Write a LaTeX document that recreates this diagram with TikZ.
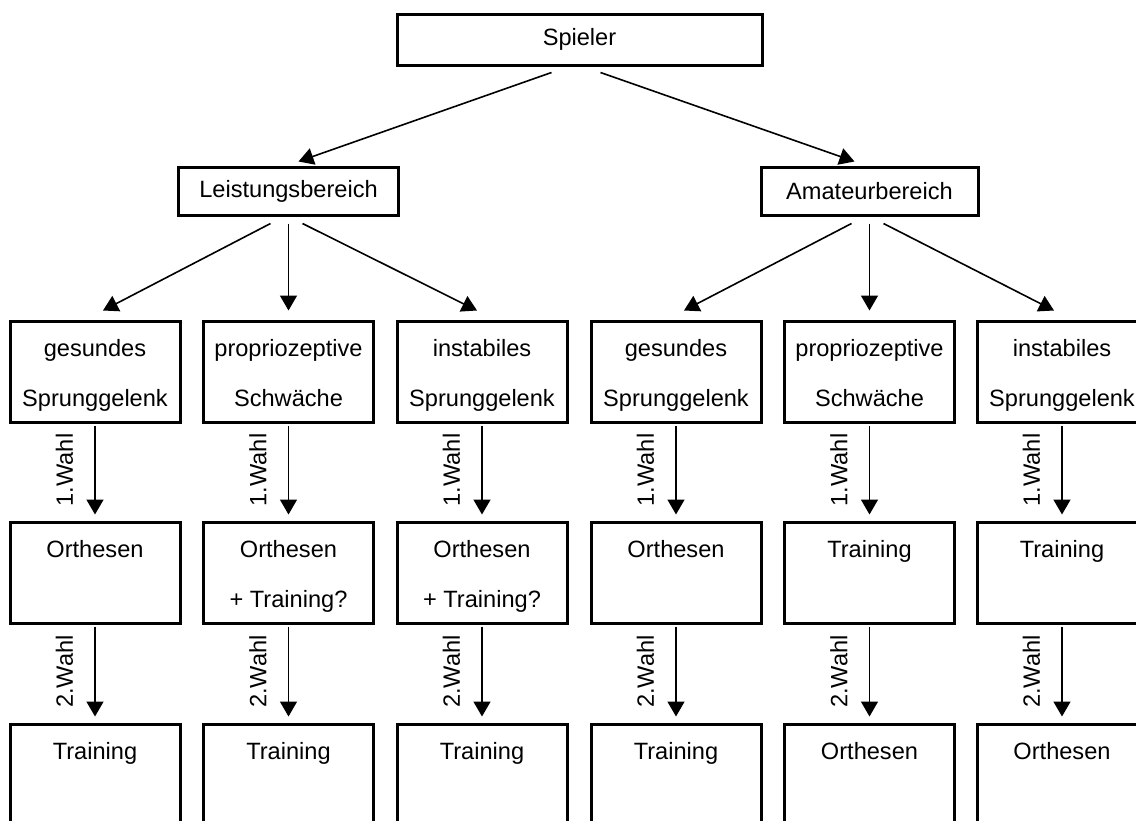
\documentclass[tikz,border=0pt]{standalone}
\usepackage{fontspec}
\setmainfont{Liberation Sans}
\usetikzlibrary{arrows.meta,calc}
\newcommand\myln[1]{\rule[-1.5pt]{0pt}{12.5pt}\smash{#1}}
\begin{document}
\begin{tikzpicture}[x=0.5pt,y=-0.5pt,
  box/.style={draw,line width=1.5pt,minimum width=85pt,minimum height=50.5pt,inner sep=0pt,align=center,font=\fontsize{11.8}{25}\selectfont},
  head/.style={draw,line width=1.5pt,inner sep=0pt,font=\fontsize{11.8}{14}\selectfont},
  arr/.style={line width=0.8pt,-{Triangle[width=8.5pt,length=7.5pt]}},
  wahl/.style={rotate=90,anchor=south,inner xsep=0pt,inner ysep=10.5pt,font=\fontsize{11.8}{14}\selectfont}]
\useasboundingbox (0,0) rectangle (1136,820);
\clip (0,0) rectangle (1136,820);
\node[head,minimum width=182.5pt,minimum height=25.5pt] (sp) at (579.5,39.5) {Spieler};
\node[head,minimum width=110pt,minimum height=24pt] (lb) at (288.5,191) {Leistungsbereich};
\node[head,minimum width=108.5pt,minimum height=24pt] (ab) at (869.5,191) {Amateurbereich};
% row 1
\node[box] (a1) at (95,371.5) {\myln{gesundes}\\\myln{Sprunggelenk}};
\node[box] (a2) at (288.5,371.5) {\myln{propriozeptive}\\\myln{Schwäche}};
\node[box] (a3) at (482,371.5) {\myln{instabiles}\\\myln{Sprunggelenk}};
\node[box] (a4) at (676,371.5) {\myln{gesundes}\\\myln{Sprunggelenk}};
\node[box] (a5) at (869.5,371.5) {\myln{propriozeptive}\\\myln{Schwäche}};
\node[box] (a6) at (1062,371.5) {\myln{instabiles}\\\myln{Sprunggelenk}};
% row 2
\node[box] (b1) at (95,572.5) {\myln{Orthesen}\\\myln{}};
\node[box] (b2) at (288.5,572.5) {\myln{Orthesen}\\\myln{+ Training?}};
\node[box] (b3) at (482,572.5) {\myln{Orthesen}\\\myln{+ Training?}};
\node[box] (b4) at (676,572.5) {\myln{Orthesen}\\\myln{}};
\node[box] (b5) at (869.5,572.5) {\myln{Training}\\\myln{}};
\node[box] (b6) at (1062,572.5) {\myln{Training}\\\myln{}};
% row 3
\node[box] (c1) at (95,774.5) {\myln{Training}\\\myln{}};
\node[box] (c2) at (288.5,774.5) {\myln{Training}\\\myln{}};
\node[box] (c3) at (482,774.5) {\myln{Training}\\\myln{}};
\node[box] (c4) at (676,774.5) {\myln{Training}\\\myln{}};
\node[box] (c5) at (869.5,774.5) {\myln{Orthesen}\\\myln{}};
\node[box] (c6) at (1062,774.5) {\myln{Orthesen}\\\myln{}};
% top arrows
\draw[arr] ($(sp.south)+(-28,6)$) -- ($(lb.north)+(10,-4)$);
\draw[arr] ($(sp.south)+(21,6)$) -- ($(ab.north)+(-15,-4)$);
% second level arrows
\draw[arr] ($(lb.south)+(-18,7)$) -- ($(a1.north)+(8,-9)$);
\draw[arr] ($(lb.south)+(0,7)$) -- ($(a2.north)+(0,-9)$);
\draw[arr] ($(lb.south)+(14,7)$) -- ($(a3.north)+(-5,-9)$);
\draw[arr] ($(ab.south)+(-18,7)$) -- ($(a4.north)+(8,-9)$);
\draw[arr] ($(ab.south)+(0,7)$) -- ($(a5.north)+(0,-9)$);
\draw[arr] ($(ab.south)+(14,7)$) -- ($(a6.north)+(-8,-9)$);
% vertical arrows
\foreach \i in {1,...,6}{
  \draw[arr] ($(a\i.south)+(0,2)$) -- node[wahl]{1.Wahl} ($(b\i.north)+(0,-6)$);
  \draw[arr] ($(b\i.south)+(0,2)$) -- node[wahl]{2.Wahl} ($(c\i.north)+(0,-6)$);
}
\end{tikzpicture}
\end{document}
